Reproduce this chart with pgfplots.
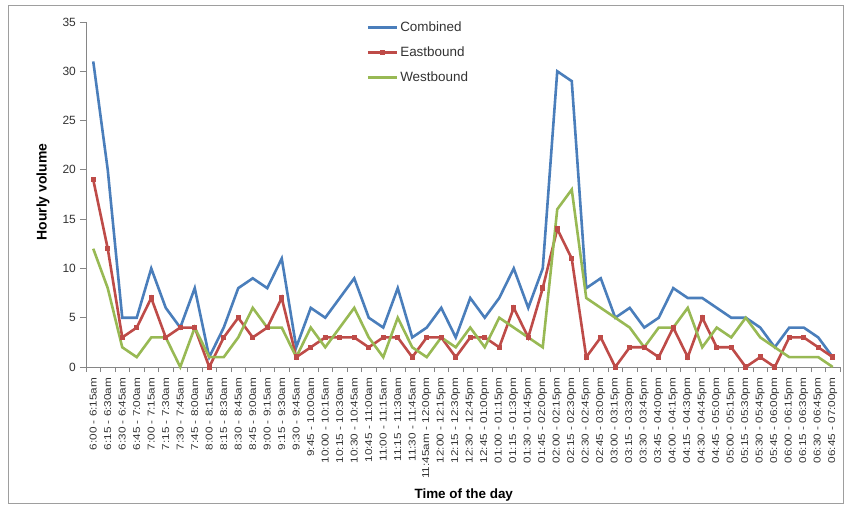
\documentclass[border=0pt]{standalone}
\usepackage{fontspec}
\setmainfont{Liberation Sans}
\usepackage{graphicx}
\usepackage{pgfplots}
\usepackage{pgfplotstable}
\pgfplotsset{compat=1.18}
\definecolor{cblue}{HTML}{4A7EBB}
\definecolor{cred}{HTML}{BE4B48}
\definecolor{cgreen}{HTML}{98B954}
\definecolor{axgray}{HTML}{868686}
\definecolor{txt}{HTML}{333333}
\newcommand\TL[1]{\scalebox{1.18}[1]{#1}}

\pgfplotstableread{
x c e w
0 31 19 12
1 20 12 8
2 5 3 2
3 5 4 1
4 10 7 3
5 6 3 3
6 4 4 0
7 8 4 4
8 1 0 1
9 4 3 1
10 8 5 3
11 9 3 6
12 8 4 4
13 11 7 4
14 2 1 1
15 6 2 4
16 5 3 2
17 7 3 4
18 9 3 6
19 5 2 3
20 4 3 1
21 8 3 5
22 3 1 2
23 4 3 1
24 6 3 3
25 3 1 2
26 7 3 4
27 5 3 2
28 7 2 5
29 10 6 4
30 6 3 3
31 10 8 2
32 30 14 16
33 29 11 18
34 8 1 7
35 9 3 6
36 5 0 5
37 6 2 4
38 4 2 2
39 5 1 4
40 8 4 4
41 7 1 6
42 7 5 2
43 6 2 4
44 5 2 3
45 5 0 5
46 4 1 3
47 2 0 2
48 4 3 1
49 4 3 1
50 3 2 1
51 1 1 0
}\datatable

\begin{document}
\begin{tikzpicture}
\useasboundingbox (-86bp,-139bp) rectangle (764bp,367bp);
\draw[axgray!80, line width=0.8bp] (-78bp,-136bp) rectangle (757bp,362bp);
\begin{axis}[
  at={(0,0)}, anchor=south west,
  scale only axis,
  width=754bp, height=345bp,
  xmin=-0.5, xmax=51.5,
  ymin=0, ymax=35,
  ytick={0,5,...,35},
  xtick={0,...,51},
  minor xtick={-0.5,0.5,...,51.5},
  xticklabels={
    \TL{6:00 - 6:15am}, \TL{6:15 - 6:30am}, \TL{6:30 - 6:45am}, \TL{6:45 - 7:00am},
    \TL{7:00 - 7:15am}, \TL{7:15 - 7:30am}, \TL{7:30 - 7:45am}, \TL{7:45 - 8:00am},
    \TL{8:00 - 8:15am}, \TL{8:15 - 8:30am}, \TL{8:30 - 8:45am}, \TL{8:45 - 9:00am},
    \TL{9:00 - 9:15am}, \TL{9:15 - 9:30am}, \TL{9:30 - 9:45am}, \TL{9:45 - 10:00am},
    \TL{10:00 - 10:15am}, \TL{10:15 - 10:30am}, \TL{10:30 - 10:45am}, \TL{10:45 - 11:00am},
    \TL{11:00 - 11:15am}, \TL{11:15 - 11:30am}, \TL{11:30 - 11:45am}, \TL{11:45am - 12:00pm},
    \TL{12:00 - 12:15pm}, \TL{12:15 - 12:30pm}, \TL{12:30 - 12:45pm}, \TL{12:45 - 01:00pm},
    \TL{01:00 - 01:15pm}, \TL{01:15 - 01:30pm}, \TL{01:30 - 01:45pm}, \TL{01:45 - 02:00pm},
    \TL{02:00 - 02:15pm}, \TL{02:15 - 02:30pm}, \TL{02:30 - 02:45pm}, \TL{02:45 - 03:00pm},
    \TL{03:00 - 03:15pm}, \TL{03:15 - 03:30pm}, \TL{03:30 - 03:45pm}, \TL{03:45 - 04:00pm},
    \TL{04:00 - 04:15pm}, \TL{04:15 - 04:30pm}, \TL{04:30 - 04:45pm}, \TL{04:45 - 05:00pm},
    \TL{05:00 - 05:15pm}, \TL{05:15 - 05:30pm}, \TL{05:30 - 05:45pm}, \TL{05:45 - 06:00pm},
    \TL{06:00 - 06:15pm}, \TL{06:15 - 06:30pm}, \TL{06:30 - 06:45pm}, \TL{06:45 - 07:00pm}},
  axis x line*=bottom,
  axis y line*=left,
  axis line style={axgray, line width=0.8bp, -},
  tick align=outside,
  major tick length=6bp,
  minor tick length=5bp,
  tick style={axgray, line width=0.8bp},
  major x tick style={draw=none},
  /pgf/number format/assume math mode=true,
  yticklabel style={font=\fontsize{12}{12}\selectfont, text=txt, inner xsep=4bp},
  xticklabel style={font=\fontsize{10}{10}\selectfont, text=txt, rotate=90, anchor=east, inner xsep=4.5bp},
  every axis x label/.style={at={(axis description cs:0.501,-0.371)}, anchor=center, font=\bfseries\fontsize{13.5}{14}\selectfont},
  every axis y label/.style={at={(axis description cs:-0.057,0.507)}, rotate=90, anchor=center, font=\bfseries\fontsize{14}{14}\selectfont},
  xlabel={Time of the day},
  ylabel={Hourly volume},
  clip=false,
  legend style={at={(0.372,1.003)}, anchor=north west, draw=none, fill=none,
    font=\fontsize{13.5}{14}\selectfont, row sep=12bp, inner sep=0pt,
    nodes={text height=10bp, text depth=3bp, inner ysep=0pt, inner xsep=2bp, text=txt}},
  legend cell align=left,
  legend image code/.code={\draw[mark repeat=2,mark phase=2] plot coordinates {(0bp,0bp) (14.5bp,0bp) (29bp,0bp)};},
]
\addplot[cblue, line width=2.6bp] table[x=x, y=c] {\datatable};
\addlegendentry{Combined}
\addplot[cred, line width=2.6bp, mark=square*, mark size=1.4bp, mark options={solid}] table[x=x, y=e] {\datatable};
\addlegendentry{Eastbound}
\addplot[cgreen, line width=2.6bp] table[x=x, y=w] {\datatable};
\addlegendentry{Westbound}
\end{axis}
\end{tikzpicture}
\end{document}
